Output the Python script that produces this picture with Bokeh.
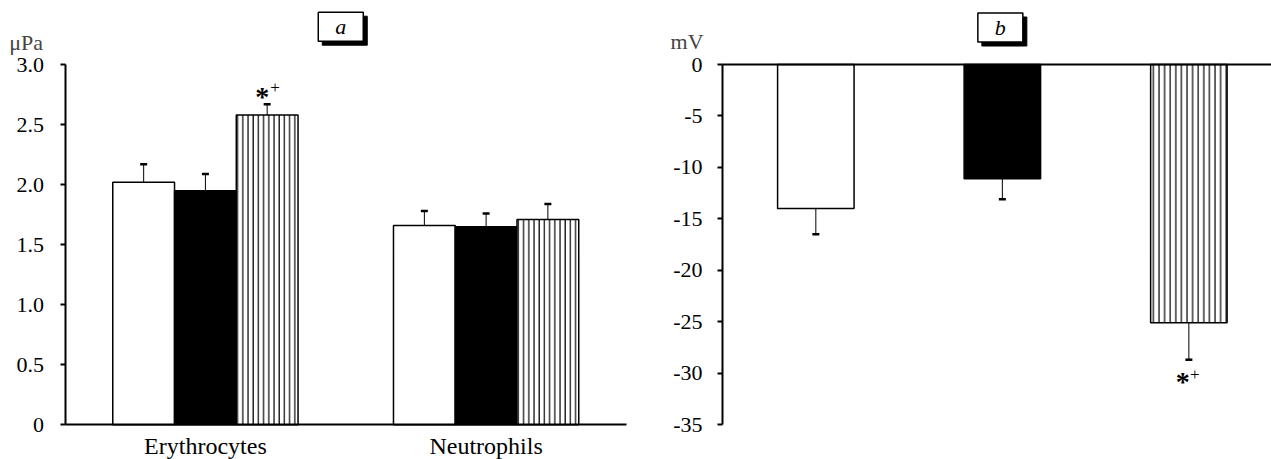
from bokeh.plotting import figure
from bokeh.models import (Range1d, FixedTicker, Whisker, TeeHead,
                          Label, ColumnDataSource)
from bokeh.layouts import row
from bokeh.embed import file_html
from bokeh.resources import INLINE
from bokeh.core.properties import value

# ---------------- data ----------------
cells = ["Erythrocytes", "Neutrophils"]
a_white = [2.02, 1.66]
a_white_err = [0.15, 0.12]
a_black = [1.95, 1.65]
a_black_err = [0.14, 0.11]
a_striped = [2.58, 1.71]
a_striped_err = [0.09, 0.13]
a_ticks = [0, 0.5, 1.0, 1.5, 2.0, 2.5, 3.0]
a_tick_labels = ["0", "0.5", "1.0", "1.5", "2.0", "2.5", "3.0"]
a_unit = "μPa"
a_marked = [0]                       # cell index whose striped bar is marked *+

b_groups = ["white", "black", "striped"]
b_values = [-14.0, -11.1, -25.1]
b_err = [2.5, 2.0, 3.6]
b_ticks = [0, -5, -10, -15, -20, -25, -30, -35]
b_tick_labels = ["0", "-5", "-10", "-15", "-20", "-25", "-30", "-35"]
b_unit = "mV"
b_marked = [2]                       # index of bar marked *+

FONT = "'Liberation Serif', serif"
TICK_FS = "22px"


def style_axis(ax):
    ax.axis_line_width = 2
    ax.axis_line_color = "black"
    ax.major_tick_line_width = 2
    ax.major_tick_line_color = "black"
    ax.major_tick_out = 5
    ax.major_tick_in = 0
    ax.minor_tick_out = 0
    ax.minor_tick_in = 0
    ax.major_label_text_font = FONT
    ax.major_label_text_font_size = TICK_FS
    ax.major_label_text_color = "black"


def panel_box(p, letter, x, y, x_off, y_off):
    common = dict(x=x, y=y, text=letter, text_font=FONT, text_font_size="22px",
                  text_font_style="italic", text_align="center",
                  text_baseline="middle", padding=(17, 2))
    p.add_layout(Label(x_offset=x_off + 4, y_offset=y_off - 4, text_color="black",
                       background_fill_color="black", border_line_color="black",
                       **common))
    p.add_layout(Label(x_offset=x_off, y_offset=y_off, text_color="black",
                       background_fill_color="white", border_line_color="black",
                       border_line_width=1.5, **common))


def base_fig(width, xr, yr):
    p = figure(width=width, height=459, x_range=xr, y_range=yr,
               output_backend="svg", toolbar_location=None,
               min_border_left=0, min_border_right=0,
               min_border_top=0, min_border_bottom=0)
    p.outline_line_color = None
    p.xgrid.visible = False
    p.ygrid.visible = False
    p.background_fill_color = "white"
    p.border_fill_color = "white"
    return p


# ---------------- panel a ----------------
cx = [i + 0.5 for i in range(len(cells))]
pa = base_fig(640, Range1d(-0.23, 2.05), Range1d(-0.29, 3.535))

BW = 0.22
series = [(a_white, a_white_err, -BW, dict(fill_color="white")),
          (a_black, a_black_err, 0.0, dict(fill_color="black")),
          (a_striped, a_striped_err, BW, dict(fill_color="white", hatch_pattern="|",
                                               hatch_scale=5.2, hatch_weight=1.2,
                                               hatch_color="black"))]
hi_by_series = []
for vals, errs, off, style in series:
    src = ColumnDataSource(dict(x=[c + off for c in cx], v=vals,
                                hi=[v + e for v, e in zip(vals, errs)]))
    hi_by_series.append(src.data["hi"])
    pa.vbar(x="x", top="v", bottom=0, width=BW, line_color="black",
            line_width=1.5, source=src, **style)
    pa.add_layout(Whisker(base="x", lower="v", upper="hi", source=src,
                          dimension="height", line_width=1, line_color="black",
                          lower_head=None,
                          upper_head=TeeHead(size=7, line_width=2.5, line_color="black")))

src_a_mark = ColumnDataSource(dict(x=[cx[i] + BW for i in a_marked],
                                   y=[hi_by_series[2][i] for i in a_marked]))
pa.text(x="x", y="y", text=value("*"), source=src_a_mark,
        text_font=value(FONT), text_font_size="28px", text_font_style="bold",
        text_align="center", text_baseline="middle", x_offset=-5, y_offset=-8)
pa.text(x="x", y="y", text=value("+"), source=src_a_mark,
        text_font=value(FONT), text_font_size="17px",
        text_align="center", text_baseline="middle", x_offset=8, y_offset=-17)

ya = pa.yaxis[0]
ya.fixed_location = 0
ya.bounds = (0, 3.0)
ya.ticker = FixedTicker(ticks=a_ticks)
ya.major_label_overrides = {t: l for t, l in zip(a_ticks, a_tick_labels)}
ya.major_label_standoff = 16
style_axis(ya)

xa = pa.xaxis[0]
xa.fixed_location = 0
xa.bounds = (0, len(cells))
xa.ticker = FixedTicker(ticks=cx)
xa.major_label_overrides = {c: n for c, n in zip(cx, cells)}
style_axis(xa)
xa.major_tick_out = 0
xa.major_label_text_font_size = "24px"
xa.major_label_standoff = 8

pa.add_layout(Label(x=0, y=3.0, x_offset=-22, y_offset=22, text=a_unit,
                    text_font=FONT, text_font_size=TICK_FS, text_align="right",
                    text_baseline="middle"))
panel_box(pa, "a", len(cells) / 2, 3.0, -5, 38)

# ---------------- panel b ----------------
b_x = [i + 0.5 for i in range(len(b_groups))]
b_lo = [v - e for v, e in zip(b_values, b_err)]
pb = base_fig(631, Range1d(-0.44, 2.943), Range1d(-38.4, 6.222))

BWB = 0.41
b_styles = [dict(fill_color="white"), dict(fill_color="black"),
            dict(fill_color="white", hatch_pattern="|", hatch_scale=5.6,
                 hatch_weight=1.2, hatch_color="black")]
for i, st in enumerate(b_styles):
    sub = ColumnDataSource(dict(x=[b_x[i]], v=[b_values[i]]))
    pb.vbar(x="x", top=0, bottom="v", width=BWB, line_color="black",
            line_width=1.5, source=sub, **st)
src_b = ColumnDataSource(dict(x=b_x, v=b_values, lo=b_lo))
pb.add_layout(Whisker(base="x", lower="lo", upper="v", source=src_b,
                      dimension="height", line_width=1, line_color="black",
                      upper_head=None,
                      lower_head=TeeHead(size=7, line_width=2.5, line_color="black")))

src_b_mark = ColumnDataSource(dict(x=[b_x[i] for i in b_marked],
                                   y=[b_lo[i] for i in b_marked]))
pb.text(x="x", y="y", text=value("*"), source=src_b_mark,
        text_font=value(FONT), text_font_size="28px", text_font_style="bold",
        text_align="center", text_baseline="middle", x_offset=-6, y_offset=22)
pb.text(x="x", y="y", text=value("+"), source=src_b_mark,
        text_font=value(FONT), text_font_size="17px",
        text_align="center", text_baseline="middle", x_offset=6, y_offset=15)

yb = pb.yaxis[0]
yb.fixed_location = 0
yb.bounds = (-35, 0)
yb.ticker = FixedTicker(ticks=b_ticks)
yb.major_label_overrides = {t: l for t, l in zip(b_ticks, b_tick_labels)}
yb.major_label_standoff = 15
style_axis(yb)

xb = pb.xaxis[0]
xb.fixed_location = 0
xb.bounds = (0, len(b_groups))
xb.ticker = FixedTicker(ticks=[])
style_axis(xb)
xb.major_tick_out = 0

pb.add_layout(Label(x=0, y=0, x_offset=-19, y_offset=23, text=b_unit,
                    text_font=FONT, text_font_size=TICK_FS, text_align="right",
                    text_baseline="middle"))
panel_box(pb, "b", len(b_groups) / 2, 0, -2, 37)

layout = row(pa, pb)
open("out.html", "w").write(file_html(layout, INLINE))
